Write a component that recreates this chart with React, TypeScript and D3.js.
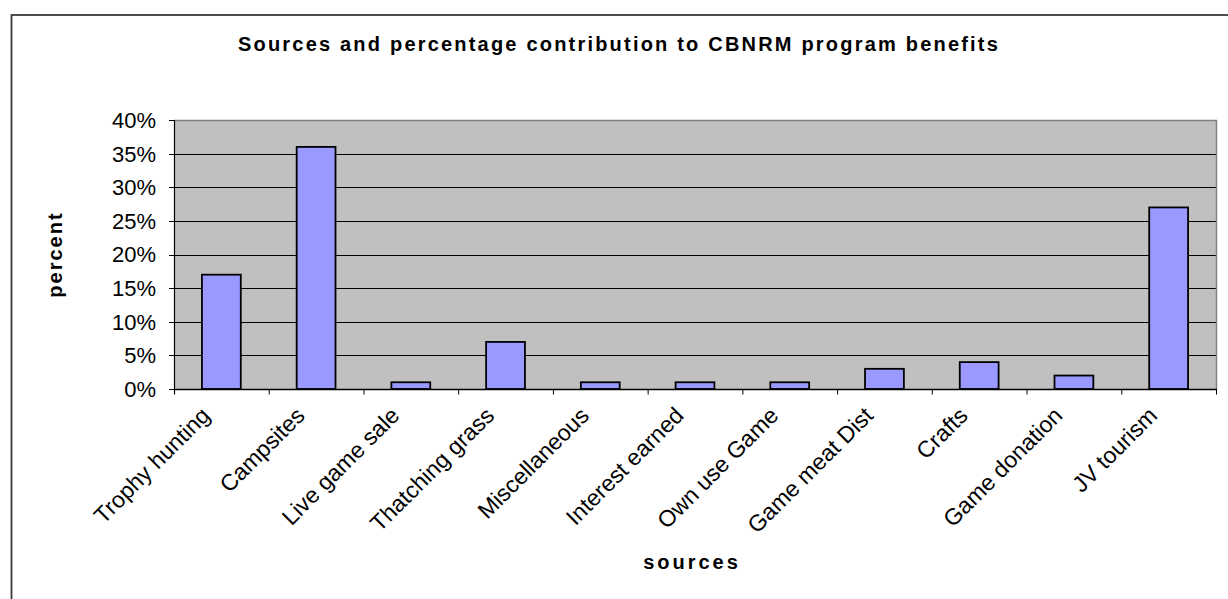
import React from "react";
import * as d3 from "d3";

// Benefit sources and their share of total benefits (percent)
const categories: string[] = [
  "Trophy hunting",
  "Campsites",
  "Live game sale",
  "Thatching grass",
  "Miscellaneous",
  "Interest earned",
  "Own use Game",
  "Game meat Dist",
  "Crafts",
  "Game donation",
  "JV tourism",
];
const percentages: number[] = [17, 36, 1, 7, 1, 1, 1, 3, 4, 2, 27];
const yTicks: number[] = [0, 5, 10, 15, 20, 25, 30, 35, 40];

const titleText = "Sources and percentage contribution to CBNRM program benefits";
const xTitle = "sources";
const yTitle = "percent";

const W = 1228;
const H = 599;
const plot = { left: 174, top: 120, right: 1216, bottom: 389 };
const FONT = "'Liberation Sans', Arial, Helvetica, sans-serif";

export default function App() {
  const x = d3
    .scaleBand<string>()
    .domain(categories)
    .range([plot.left, plot.right])
    .padding(0);
  const y = d3.scaleLinear().domain([0, 40]).range([plot.bottom, plot.top]);
  const bw = x.bandwidth();
  const barW = bw * 0.41;
  const fmt = (v: number) => `${v}%`;

  const boundaries = [...categories.map((c) => x(c) as number), plot.right];

  return (
    <svg
      width={W}
      height={H}
      viewBox={`0 0 ${W} ${H}`}
      style={{ position: "absolute", left: 0, top: 0, background: "#fff" }}
      fontFamily={FONT}
    >
      {/* chart frame */}
      <rect x={11.5} y={15} width={1400} height={800} fill="none" stroke="#3a3a3a" strokeWidth={1.8} />

      {/* title */}
      <text
        x={619}
        y={51}
        textAnchor="middle"
        fontSize={20}
        fontWeight="bold"
        letterSpacing={2.2}
        fill="#000"
      >
        {titleText}
      </text>

      {/* plot background */}
      <rect
        x={plot.left}
        y={plot.top}
        width={plot.right - plot.left}
        height={plot.bottom - plot.top}
        fill="#c0c0c0"
      />

      {/* horizontal gridlines */}
      {yTicks.slice(1, -1).map((t) => (
        <line
          key={`g${t}`}
          x1={plot.left}
          x2={plot.right}
          y1={Math.round(y(t)) + 0.5}
          y2={Math.round(y(t)) + 0.5}
          stroke="#000"
          strokeWidth={1}
        />
      ))}

      {/* plot border top/right */}
      <polyline
        points={`${plot.left},${plot.top + 0.5} ${plot.right + 0.5},${plot.top + 0.5} ${plot.right + 0.5},${plot.bottom}`}
        fill="none"
        stroke="#808080"
        strokeWidth={1.5}
      />

      {/* bars */}
      {categories.map((c, i) => (
        <rect
          key={c}
          x={(x(c) as number) + (bw - barW) / 2}
          y={y(percentages[i])}
          width={barW}
          height={y(0) - y(percentages[i])}
          fill="#9999ff"
          stroke="#000"
          strokeWidth={1.8}
        />
      ))}

      {/* y axis */}
      <line x1={plot.left + 0.5} x2={plot.left + 0.5} y1={plot.top} y2={plot.bottom + 5} stroke="#000" strokeWidth={1.2} />
      {yTicks.map((t) => (
        <g key={`y${t}`}>
          <line
            x1={plot.left - 5}
            x2={plot.left}
            y1={Math.round(y(t)) + 0.5}
            y2={Math.round(y(t)) + 0.5}
            stroke="#000"
          />
          <text
            x={156}
            y={y(t)}
            dy="0.36em"
            textAnchor="end"
            fontSize={22}
            fill="#000"
          >
            {fmt(t)}
          </text>
        </g>
      ))}

      {/* x axis */}
      <line x1={plot.left} x2={plot.right + 1} y1={plot.bottom + 0.5} y2={plot.bottom + 0.5} stroke="#000" strokeWidth={1.4} />
      {boundaries.map((bx, i) => (
        <line
          key={`xt${i}`}
          x1={bx + 0.5}
          x2={bx + 0.5}
          y1={plot.bottom}
          y2={plot.bottom + 5.5}
          stroke="#000"
        />
      ))}
      {categories.map((c) => {
        const cx = (x(c) as number) + bw / 2;
        return (
          <text
            key={`xl${c}`}
            transform={`translate(${cx - 10},${plot.bottom + 28}) rotate(-45)`}
            textAnchor="end"
            fontSize={23}
            fill="#000"
          >
            {c}
          </text>
        );
      })}

      {/* axis titles */}
      <text
        x={692}
        y={569}
        textAnchor="middle"
        fontSize={20}
        fontWeight="bold"
        letterSpacing={3}
        fill="#000"
      >
        {xTitle}
      </text>
      <text
        transform={`translate(62,${(plot.top + plot.bottom) / 2}) rotate(-90)`}
        textAnchor="middle"
        fontSize={20}
        fontWeight="bold"
        letterSpacing={2}
        fill="#000"
      >
        {yTitle}
      </text>
    </svg>
  );
}
